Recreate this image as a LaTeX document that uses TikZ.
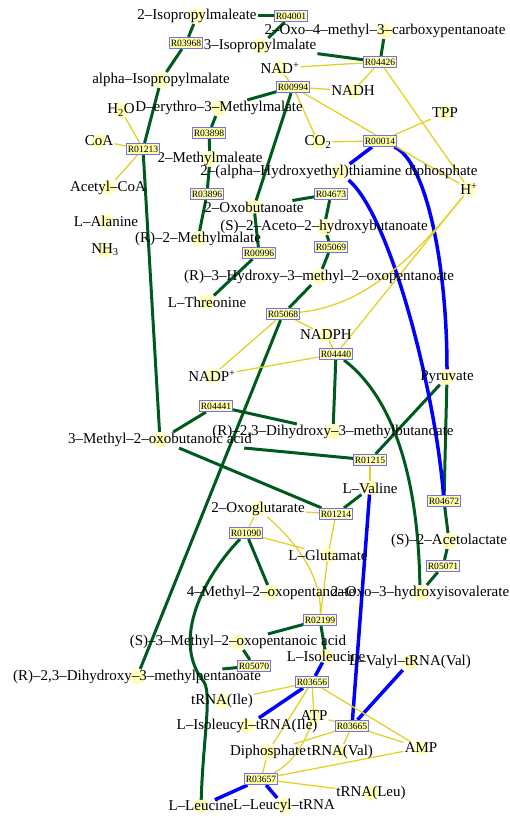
\documentclass[tikz,border=0pt]{standalone}
\usepackage{fontspec}
\setmainfont{Liberation Serif}
\pgfdeclarelayer{dots}
\pgfdeclarelayer{links}
\pgfsetlayers{dots,links,main}
\definecolor{mainflow}{RGB}{0,90,30}
\definecolor{sideflow}{RGB}{225,210,40}
\definecolor{trnaflow}{RGB}{0,0,255}
\definecolor{dotfill}{RGB}{255,255,185}
\definecolor{rxnfill}{RGB}{255,255,170}
\definecolor{rxnedge}{RGB}{110,110,255}
\tikzset{
  cpd/.style={inner sep=1pt, font=\fontsize{15}{16}\selectfont},
  rbox/.style={draw=rxnedge, fill=rxnfill, line width=1.2pt, inner xsep=1pt,
    inner ysep=1pt, minimum height=11pt, font=\fontsize{9.6}{10}\selectfont},
  mainln/.style={draw=mainflow, line width=3pt},
  sideln/.style={draw=sideflow, line width=1.3pt},
  blueln/.style={draw=trnaflow, line width=3.5pt},
}
% compound: pale dot under a text node
\newcommand\cmpd[3]{%
  \begin{pgfonlayer}{dots}\fill[dotfill] (#2) circle (7.5);\end{pgfonlayer}%
  \node[cpd] (#1) at (#2) {#3};}
% reaction: boxed KEGG id
\newcommand\rxn[2]{\node[rbox] (#1) at (#2) {#1};}
\begin{document}
\begin{tikzpicture}[x=1pt,y=-1pt]
\useasboundingbox (0,0) rectangle (510,818);

% ---- compounds ----
\cmpd{ipmaleate}{197,16}{2--Isopropylmaleate}
\cmpd{ipm3}{260,46}{3--Isopropylmalate}
\cmpd{omcp}{385,31}{2--Oxo--4--methyl--3--carboxypentanoate}
\cmpd{nadox}{280,68}{NAD\textsuperscript{+}}
\cmpd{nadh}{353,91}{NADH}
\cmpd{aipm}{161,80}{alpha--Isopropylmalate}
\cmpd{water}{121,110}{H\textsubscript{2}O}
\cmpd{dem}{219,108}{D--erythro--3--Methylmalate}
\cmpd{tpp}{445,113}{TPP}
\cmpd{coa}{99,141}{CoA}
\cmpd{co2}{318,142}{CO\textsubscript{2}}
\cmpd{mmal}{210,159}{2--Methylmaleate}
\cmpd{hetpp}{339,172}{2--(alpha--Hydroxyethyl)thiamine diphosphate}
\cmpd{hplus}{469,189}{H\textsuperscript{+}}
\cmpd{accoa}{108,188}{Acetyl--CoA}
\cmpd{oxobut}{254,207}{2--Oxobutanoate}
\cmpd{ala}{106,221}{L--Alanine}
\cmpd{ahb}{324,227}{(S)--2--Aceto--2--hydroxybutanoate}
\cmpd{rmm}{198,239}{(R)--2--Methylmalate}
\cmpd{nh3}{105,250}{NH\textsubscript{3}}
\cmpd{hmop}{319,277}{(R)--3--Hydroxy--3--methyl--2--oxopentanoate}
\cmpd{thr}{207,302}{L--Threonine}
\cmpd{nadph}{326,335}{NADPH}
\cmpd{nadpox}{212,376}{NADP\textsuperscript{+}}
\cmpd{pyr}{447,377}{Pyruvate}
\cmpd{dhmb}{333,432}{(R)--2,3--Dihydroxy--3--methylbutanoate}
\cmpd{mob}{160,440}{3--Methyl--2--oxobutanoic acid}
\cmpd{val}{370,488}{L--Valine}
\cmpd{akg}{258,509}{2--Oxoglutarate}
\cmpd{alac}{449,541}{(S)--2--Acetolactate}
\cmpd{glu}{328,555}{L--Glutamate}
\cmpd{mop}{271,593}{4--Methyl--2--oxopentanoate}
\cmpd{ohiv}{420,593}{2--Oxo--3--hydroxyisovalerate}
\cmpd{smop}{238,642}{(S)--3--Methyl--2--oxopentanoic acid}
\cmpd{ile}{326,656}{L--Isoleucine}
\cmpd{valtrna}{410,662}{L--Valyl--tRNA(Val)}
\cmpd{dhmp}{137,677}{(R)--2,3--Dihydroxy--3--methylpentanoate}
\cmpd{trnaile}{222,701}{tRNA(Ile)}
\cmpd{iletrna}{247,726}{L--Isoleucyl--tRNA(Ile)}
\cmpd{atp}{314,716}{ATP}
\cmpd{ppi}{268,752}{Diphosphate}
\cmpd{trnaval}{340,752}{tRNA(Val)}
\cmpd{amp}{421,748}{AMP}
\cmpd{trnaleu}{371,793}{tRNA(Leu)}
\cmpd{leu}{201,806}{L--Leucine}
\cmpd{leutrna}{284,806}{L--Leucyl--tRNA}

% ---- reactions ----
\rxn{R04001}{291,16}
\rxn{R03968}{186,43}
\rxn{R04426}{380,62}
\rxn{R00994}{293,87}
\rxn{R03898}{209,133}
\rxn{R01213}{143,149}
\rxn{R00014}{380,141}
\rxn{R03896}{207,194}
\rxn{R04673}{331,194}
\rxn{R05069}{331,247}
\rxn{R00996}{259,253}
\rxn{R05068}{283,314}
\rxn{R04440}{336,354}
\rxn{R04441}{216,406}
\rxn{R01215}{370,460}
\rxn{R04672}{444,501}
\rxn{R01214}{336,514}
\rxn{R01090}{246,533}
\rxn{R05071}{443,566}
\rxn{R02199}{320,620}
\rxn{R05070}{254,666}
\rxn{R03656}{312,682}
\rxn{R03665}{352,726}
\rxn{R03657}{261,779}

\begin{pgfonlayer}{links}
% main carbon flow
\draw[mainln] (R04001) -- (ipmaleate);
\draw[mainln] (R04001) -- (ipm3);
\draw[mainln] (R03968) -- (ipmaleate);
\draw[mainln] (R03968) -- (aipm);
\draw[mainln] (R04426) -- (ipm3);
\draw[mainln] (R04426) -- (omcp);
\draw[mainln] (R00994) -- (dem);
\draw[mainln] (R00994) -- (oxobut);
\draw[mainln] (R03898) -- (dem);
\draw[mainln] (R03898) -- (mmal);
\draw[mainln] (R03896) -- (mmal);
\draw[mainln] (R03896) -- (rmm);
\draw[mainln] (R01213) -- (aipm);
\draw[mainln] (R01213) -- (mob);
\draw[mainln] (R00996) -- (oxobut);
\draw[mainln] (R00996) -- (thr);
\draw[mainln] (R04673) -- (oxobut);
\draw[mainln] (R04673) -- (ahb);
\draw[mainln] (R05069) -- (ahb);
\draw[mainln] (R05069) -- (hmop);
\draw[mainln] (R05068) -- (hmop);
\draw[mainln] (R05068) -- (dhmp);
\draw[mainln] (R04440) -- (dhmb);
\draw[mainln] (R04440) .. controls (390,395) and (418,470) .. (ohiv);
\draw[mainln] (R05071) -- (alac);
\draw[mainln] (R05071) -- (ohiv);
\draw[mainln] (R04672) -- (alac);
\draw[mainln] (R04672) -- (pyr);
\draw[mainln] (R01215) -- (pyr);
\draw[mainln] (R01215) -- (mob);
\draw[mainln] (R04441) -- (mob);
\draw[mainln] (R04441) -- (dhmb);
\draw[mainln] (R01214) -- (mob);
\draw[mainln] (R01214) -- (val);
\draw[mainln] (R01090) -- (mop);
\draw[mainln] (R01090) .. controls (205,575) and (170,640) .. (204,682)
                       .. controls (212,695) and (203,740) .. (leu);
\draw[mainln] (R02199) -- (smop);
\draw[mainln] (R02199) -- (ile);
\draw[mainln] (R05070) -- (smop);
\draw[mainln] (R05070) -- (dhmp);

% thiamine and tRNA links
\draw[blueln] (R00014) -- (hetpp);
\draw[blueln] (R00014) .. controls (425,160) and (447,260) .. (pyr);
\draw[blueln] (hetpp) .. controls (390,215) and (435,390) .. (R04672);
\draw[blueln] (R03665) -- (val);
\draw[blueln] (R03665) -- (valtrna);
\draw[blueln] (R03656) -- (ile);
\draw[blueln] (R03656) -- (iletrna);
\draw[blueln] (R03657) -- (leu);
\draw[blueln] (R03657) -- (leutrna);

% cofactors
\draw[sideln] (R04426) -- (nadox);
\draw[sideln] (R04426) -- (nadh);
\draw[sideln] (R04426) -- (hplus);
\draw[sideln] (R00994) -- (nadox);
\draw[sideln] (R00994) -- (nadh);
\draw[sideln] (R00994) -- (co2);
\draw[sideln] (R00994) -- (hplus);
\draw[sideln] (R00014) -- (co2);
\draw[sideln] (R00014) -- (tpp);
\draw[sideln] (R01213) -- (water);
\draw[sideln] (R01213) -- (coa);
\draw[sideln] (R01213) -- (accoa);
\draw[sideln] (hplus) .. controls (420,250) and (370,305) .. (R05068);
\draw[sideln] (R04440) -- (hplus);
\draw[sideln] (R05068) -- (nadph);
\draw[sideln] (R05068) -- (nadpox);
\draw[sideln] (R04440) -- (nadpox);
\draw[sideln] (R04440) -- (nadph);
\draw[sideln] (R01215) -- (val);
\draw[sideln] (R01214) -- (akg);
\draw[sideln] (R01214) -- (glu);
\draw[sideln] (R01090) -- (akg);
\draw[sideln] (R01090) -- (glu);
\draw[sideln] (akg) .. controls (300,545) and (322,580) .. (R02199);
\draw[sideln] (R02199) -- (glu);
\draw[sideln] (R03656) -- (trnaile);
\draw[sideln] (R03656) -- (atp);
\draw[sideln] (R03656) -- (amp);
\draw[sideln] (R03656) -- (ppi);
\draw[sideln] (R03665) -- (atp);
\draw[sideln] (R03665) -- (ppi);
\draw[sideln] (R03665) -- (trnaval);
\draw[sideln] (R03665) -- (amp);
\draw[sideln] (R03657) -- (amp);
\draw[sideln] (R03657) -- (trnaleu);
\draw[sideln] (atp) .. controls (303,748) and (290,765) .. (R03657);
\draw[sideln] (R03657) -- (ppi);
\end{pgfonlayer}
\end{tikzpicture}
\end{document}
